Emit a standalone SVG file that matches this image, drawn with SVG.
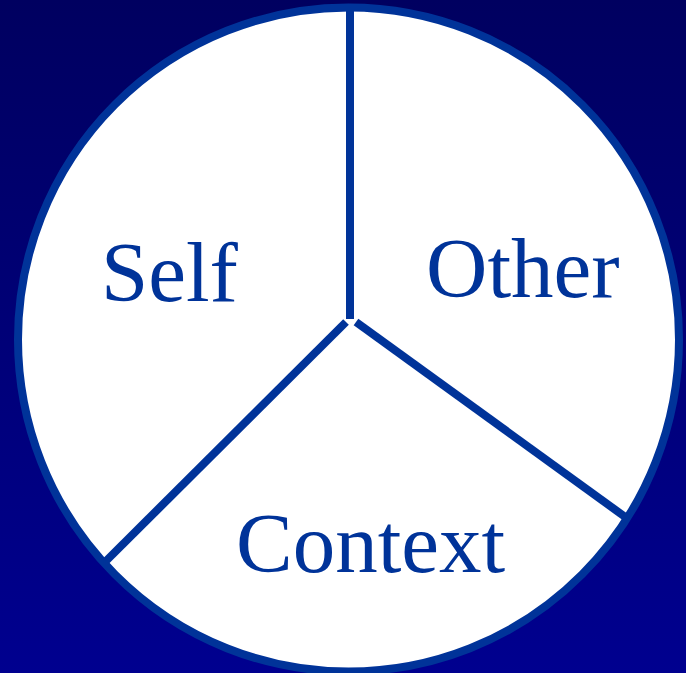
<svg xmlns="http://www.w3.org/2000/svg" width="686" height="673" viewBox="0 0 686 673">
<defs>
<linearGradient id="bg" x1="0" y1="0" x2="0" y2="1">
<stop offset="0" stop-color="#000060"/>
<stop offset="1" stop-color="#00008F"/>
</linearGradient>
<style>
.lbl{font-family:"Liberation Serif","Times New Roman",serif;font-size:85px;fill:#003399}
.div{stroke:#003399;stroke-width:8;fill:none}
</style>
</defs>
<rect width="686" height="673" fill="url(#bg)"/>
<g id="circle">
<ellipse cx="348.5" cy="339.5" rx="330.5" ry="332" fill="#ffffff" stroke="#003399" stroke-width="8"/>
</g>
<g id="connectors">
<line class="div" x1="350" y1="8" x2="350" y2="319"/>
<line class="div" x1="346" y1="322" x2="106" y2="561"/>
<line class="div" x1="356" y1="322" x2="628" y2="519"/>
</g>
<g id="self"><text class="lbl" x="101" y="301">Self</text></g>
<g id="other"><text class="lbl" x="426" y="297">Other</text></g>
<g id="context"><text class="lbl" x="236" y="572">Context</text></g>
</svg>
